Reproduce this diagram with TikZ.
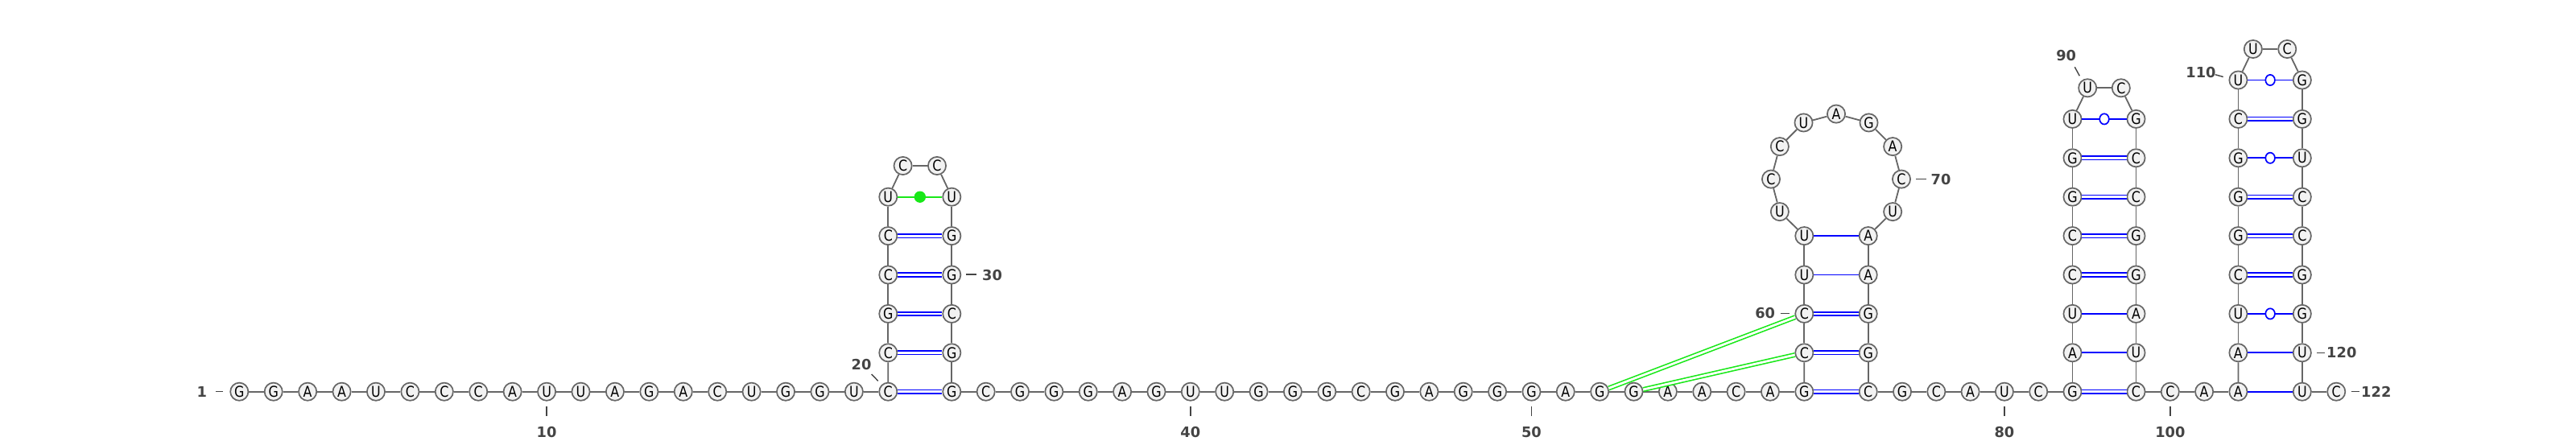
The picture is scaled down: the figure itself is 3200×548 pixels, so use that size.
\documentclass[tikz,border=0pt]{standalone}
\usepackage{fontspec}
\usetikzlibrary{shapes.geometric}
\newfontfamily\ntfont[FakeStretch=0.86]{DejaVu Sans}
\newfontfamily\lbfont{DejaVu Sans}
\definecolor{bb}{RGB}{102,102,102}
\definecolor{ntfill}{RGB}{242,242,242}
\definecolor{pblue}{RGB}{0,0,255}
\definecolor{pgreen}{RGB}{24,232,24}
\definecolor{lbl}{RGB}{68,68,68}
\begin{document}
\begin{tikzpicture}[x=1pt,y=-1pt,
  nt/.style={circle,draw=bb,fill=ntfill,line width=1.7pt,minimum size=22.2pt,inner sep=0pt,
    font=\ntfont\fontsize{18.5}{18.5}\selectfont},
  bk/.style={draw=bb,line width=1.8pt},
  dbl/.style={draw=pblue,line width=1.7pt,double=white,double distance=2.8pt},
  sgl/.style={draw=pblue,line width=1.7pt},
  wob/.style={ellipse,draw=pblue,fill=white,line width=1.7pt,minimum width=11.6pt,minimum height=13.2pt,inner sep=0pt},
  gln/.style={draw=pgreen,line width=1.8pt},
  gdot/.style={circle,fill=pgreen,minimum size=14.4pt,inner sep=0pt},
  gdbl/.style={draw=pgreen,line width=1.6pt,double=white,double distance=2.8pt},
  lab/.style={inner sep=0pt,text=lbl,font=\lbfont\bfseries\fontsize{17.8}{17.8}\selectfont},
  tick/.style={draw=lbl,line width=1.4pt}]
\useasboundingbox (0,0) rectangle (3200,548);
\fill[white] (0,0) rectangle (3200,548);
% ---- nucleotides ----
\foreach \l [count=\k from 1] in {G,G,A,A,U,C,C,C,A,U,U,A,G,A,C,U,G,G,U,C}
  \node[nt] (n\k) at ({297.3+(\k-1)*42.42},486.7) {\l};
\foreach \l [count=\k from 21] in {C,G,C,C,U}
  \node[nt] (n\k) at (1103.3,{486.7-48.4*(\k-20)}) {\l};
\node[nt] (n26) at (1121.6,206) {C};
\node[nt] (n27) at (1164,206) {C};
\foreach \l [count=\k from 28] in {U,G,G,C,G,G}
  \node[nt] (n\k) at (1182.3,{486.7-48.4*(33-\k)}) {\l};
\foreach \l [count=\k from 34] in {C,G,G,G,A,G,U,U,G,G,G,C,G,A,G,G,G,A,G,G,A,A,C,A,G}
  \node[nt] (n\k) at ({1182.3+(\k-33)*42.36},486.7) {\l};
\foreach \l [count=\k from 59] in {C,C,U,U}
  \node[nt] (n\k) at (2241.3,{486.7-48.4*(\k-58)}) {\l};
\foreach \l [count=\k from 63] in {U,C,C,U,A,G,A,C,U}
  \node[nt] (n\k) at ({2281+81*cos(210-30*(\k-63))},{222.6-81*sin(210-30*(\k-63))}) {\l};
\foreach \l [count=\k from 72] in {A,A,G,G,C}
  \node[nt] (n\k) at (2320.7,{486.7-48.4*(76-\k)}) {\l};
\foreach \l [count=\k from 77] in {G,C,A,U,C,G}
  \node[nt] (n\k) at ({2320.7+(\k-76)*42.3},486.7) {\l};
\foreach \l [count=\k from 83] in {A,U,C,C,G,G,U}
  \node[nt] (n\k) at (2574.5,{486.7-48.4*(\k-82)}) {\l};
\node[nt] (n90) at (2593.2,109.3) {U};
\node[nt] (n91) at (2634.8,109.3) {C};
\foreach \l [count=\k from 92] in {G,C,C,G,G,A,U,C}
  \node[nt] (n\k) at (2653.5,{486.7-48.4*(99-\k)}) {\l};
\foreach \l [count=\k from 100] in {C,A,A}
  \node[nt] (n\k) at ({2653.5+(\k-99)*42.3},486.7) {\l};
\foreach \l [count=\k from 103] in {A,U,C,G,G,G,C,U}
  \node[nt] (n\k) at (2780.4,{486.7-48.4*(\k-102)}) {\l};
\node[nt] (n111) at (2798.8,61) {U};
\node[nt] (n112) at (2841.2,61) {C};
\foreach \l [count=\k from 113] in {G,G,U,C,C,G,G,U,U}
  \node[nt] (n\k) at (2859.8,{486.7-48.4*(121-\k)}) {\l};
\node[nt] (n122) at (2902.2,486.7) {C};
% ---- backbone ----
\foreach \i in {1,...,121}{
  \pgfmathtruncatemacro\j{\i+1}
  \draw[bk] (n\i) -- (n\j);
}
% ---- base pairs ----
\foreach \a/\b in {20/33,21/32,22/31,23/30,24/29,58/76,59/75,60/74,82/99,85/96,86/95,87/94,88/93,105/118,106/117,107/116,109/114}
  \draw[dbl] (n\a) -- (n\b);
\foreach \a/\b in {61/73,62/72,83/98,84/97,102/121,103/120}
  \draw[sgl] (n\a) -- (n\b);
\foreach \a/\b in {89/92,104/119,108/115,110/113}
  \draw[sgl] (n\a) -- node[wob] (w\a) {} (n\b);
\draw[gln] (n25) -- node[gdot] (g25) {} (n28);
\draw[gdbl] (n52) -- (n60);
\draw[gdbl] (n53) -- (n59);
% ---- numbering ----
\node[lab] (l1) at (250.8,486.7) {1};
\draw[tick] (267.5,486.7) -- (277,486.7);
\node[lab] (l10) at (679.1,536.7) {10};
\draw[tick] (679.1,505) -- (679.1,516.7);
\node[lab] (l20) at (1070,453.3) {20};
\draw[tick] (1082.7,465) -- (1090.7,473.3);
\node[lab] (l30) at (1232.5,342) {30};
\draw[tick] (1200,341) -- (1213,341);
\node[lab] (l40) at (1478.8,536.7) {40};
\draw[tick] (1478.8,505) -- (1478.8,516.7);
\node[lab] (l50) at (1902.4,536.7) {50};
\draw[tick] (1902.4,505) -- (1902.4,516.7);
\node[lab] (l60) at (2192.7,389.5) {60};
\draw[tick] (2211.7,389.3) -- (2223.3,389.3);
\node[lab] (l70) at (2411,223.5) {70};
\draw[tick] (2380,222.6) -- (2393,222.6);
\node[lab] (l80) at (2489.9,536.7) {80};
\draw[tick] (2489.9,505) -- (2489.9,516.7);
\node[lab] (l90) at (2566.7,69.3) {90};
\draw[tick] (2577.3,83.3) -- (2583.3,94.3);
\node[lab] (l100) at (2695.8,536.7) {100};
\draw[tick] (2695.8,505) -- (2695.8,516.7);
\node[lab] (l110) at (2734,90) {110};
\draw[tick] (2751.7,92.7) -- (2761.7,95.5);
\node[lab,anchor=west] (l120) at (2890,438.5) {120};
\draw[tick] (2878,438.3) -- (2888,438.3);
\node[lab,anchor=west] (l122) at (2933,486.7) {122};
\draw[tick] (2920.5,486.7) -- (2931,486.7);
\end{tikzpicture}
\end{document}
